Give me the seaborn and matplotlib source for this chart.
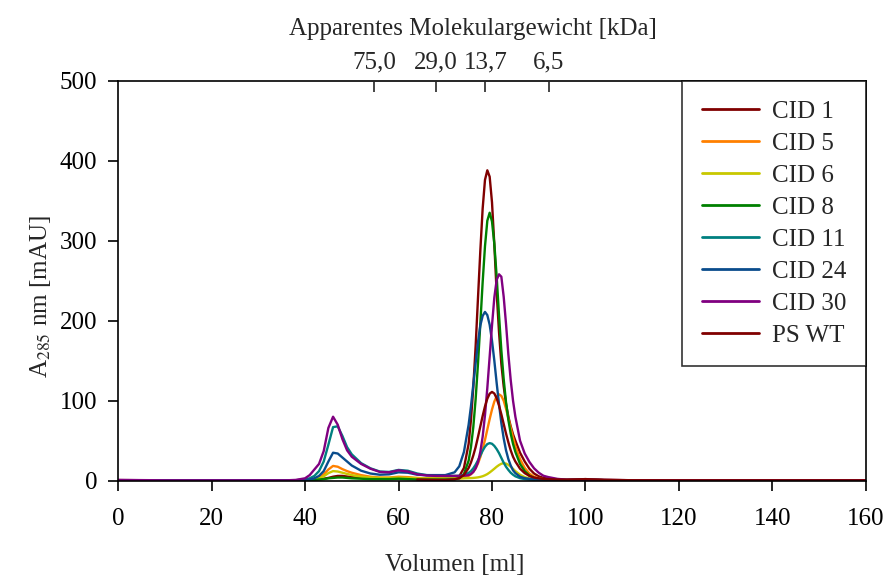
import numpy as np
import pandas as pd
import matplotlib
matplotlib.use("Agg")
import matplotlib.pyplot as plt
import seaborn as sns

nan = np.nan

volume = [0, 10, 20, 30, 36, 38,
          40, 41, 42, 43, 44, 45, 46, 47, 48, 49, 50,
          52, 54, 56, 58, 60, 62, 64, 66, 68, 70,
          72, 73, 74, 75,
          75.5, 76, 76.5, 77, 77.5, 78, 78.5, 79, 79.5, 80, 80.5, 81, 81.5, 82, 82.5, 83, 83.5, 84, 84.5, 85,
          86, 87, 88, 89, 90, 91, 92,
          94, 96, 100, 104, 110, 120, 140, 160]

cid1 = [0.8, 0.5, 0.5, 0.5, 0.5, 0.6,
        0.8, 1.0, 1.3, 1.8, 2.5, 3.5, 5.0, 6.0, 6.0, 5.2, 4.5,
        3.5, 3.0, 2.6, 2.5, 3.0, 2.6, 2.2, 2.0, 2.0, 2.2,
        2.8, 5.5, 16, 46,
        76, 117, 168, 228, 287, 340, 376, 388, 380, 348, 295, 235, 186, 146, 118, 96, 80, 68, 58, 50,
        35, 24, 15, 9, 5.5, 3.5, 2.5,
        1.3, 1.2, 2.0, 1.0, 0.6, 0.5, 0.5, 0.5]

cid5 = [0.5, 0.5, 0.5, 0.5, 0.5, 0.6,
        1.0, 1.5, 2.5, 4.0, 8.0, 14.0, 18.5, 17.5, 14.5, 12.0, 10.0,
        7.0, 5.0, 4.0, 4.0, 5.0, 4.5, 3.5, 3.0, 3.0, 3.0,
        3.0, 3.0, 3.5, 6.0,
        8.0, 11, 15.5, 21.5, 29.5, 39.5, 51, 64, 77, 89, 99, 105.5, 108, 106, 100, 90, 78, 66, 54, 43,
        27, 16, 9, 5, 3, 2, 1.6,
        1.2, 1.0, 1.2, 0.8, 0.6, 0.5, 0.5, 0.5]

cid6 = [0.5, 0.5, 0.5, 0.5, 0.5, 0.6,
        1.0, 1.5, 2.0, 3.0, 5.5, 9.5, 12.0, 11.5, 10.0, 8.5, 7.0,
        5.0, 4.0, 3.5, 3.5, 4.0, 3.5, 3.0, 3.0, 3.0, 3.0,
        3.0, 3.0, 3.0, 3.2,
        3.3, 3.5, 3.8, 4.2, 4.8, 5.6, 6.8, 8.3, 10.3, 12.6, 15, 17.5, 19.6, 21.2, 22, 21.4, 19.8, 17.5, 14.8, 12,
        7.5, 4.5, 2.8, 1.8, 1.3, 1.1, 1.0,
        0.9, 0.8, 1.0, 0.7, 0.6, 0.5, 0.5, 0.5]

cid8 = [0.5, 0.5, 0.5, 0.5, 0.5, 0.5,
        0.5, 0.7, 1.0, 1.5, 2.0, 3.0, 3.5, 4.0, 4.0, 3.5, 3.0,
        2.5, 2.0, 2.0, 2.0, 2.5, 2.0, 1.5, 1.5, 1.5, 1.5,
        1.8, 3.0, 8.5, 25,
        42, 67, 102, 146, 196, 248, 293, 325, 335, 324, 296, 255, 207, 163, 127, 98, 76, 59, 46, 36,
        21, 12, 6.5, 3.5, 2.0, 1.4, 1.1,
        0.9, 0.8, 1.0, 0.7, 0.6, 0.5, 0.5, 0.5]

cid11 = [0.5, 0.5, 0.5, 0.5, 0.5, 0.6,
         1.5, 3.0, 6.0, 12.0, 24.0, 45.0, 67.0, 68.0, 56.0, 42.0, 33.0,
         22.0, 15.5, 11.5, 11.0, 13.5, 12.5, 9.0, 7.0, 6.5, 6.0,
         6.0, 6.2, 7.0, 9.8,
         12, 15.5, 20, 25.5, 31.5, 37.5, 42.5, 45.8, 47, 46.2, 43.5, 39.5, 34.5, 28.5, 22.5, 17.5, 13.5, 10, 7.5, 5.5,
         3.2, 2.0, 1.4, 1.1, 1.0, 0.9, 0.9,
         0.8, 0.8, 1.0, 0.7, 0.6, 0.5, 0.5, 0.5]

cid24 = [0.5, 0.5, 0.5, 0.5, 0.5, 0.6,
         1.0, 1.5, 3.0, 6.0, 12.0, 24.0, 35.0, 34.0, 29.0, 24.0, 19.0,
         12.5, 9.0, 7.5, 8.0, 10.5, 10.0, 7.5, 7.0, 7.0, 7.0,
         10.5, 18, 36, 70,
         93, 120, 147, 173, 194, 206, 211, 207, 195, 175, 150, 122, 96, 72, 53, 38, 27, 19, 13, 9.5,
         5, 3.2, 2.3, 1.7, 1.4, 1.2, 1.1,
         0.9, 0.8, 1.0, 0.7, 0.6, 0.5, 0.5, 0.5]

cid30 = [1.0, 0.5, 0.5, 0.5, 0.5, 1.0,
         3.0, 7.0, 14.0, 21.0, 37.0, 66.0, 80.0, 70.0, 52.0, 38.0, 30.0,
         21.0, 15.0, 11.0, 10.5, 13.0, 11.5, 8.0, 6.5, 6.0, 6.0,
         6.0, 6.0, 6.2, 7.0,
         8.5, 11, 15.5, 23, 36, 55, 82, 116, 155, 194, 229, 251, 258, 255, 230, 196, 158, 126, 100, 80,
         50, 34, 23.5, 15.5, 10, 6.2, 4.6,
         2.3, 1.3, 1.5, 1.0, 0.6, 0.5, 0.5, 0.5]

pswt = [nan, nan, nan, nan, nan, nan,
        nan, nan, nan, nan, nan, nan, nan, nan, nan, nan, nan,
        nan, nan, nan, nan, nan, nan, 1.5, 1.2, 1.0, 1.0,
        1.7, 3.2, 7.2, 15.9,
        22.8, 31.6, 42, 54.6, 67.8, 80.9, 92.9, 102.5, 108.8, 111, 109, 103, 94, 83, 71, 59, 48, 38, 30, 24,
        15, 9.5, 6, 4, 3, 2.3, 2,
        1.5, 1.3, 2.0, 1.0, 0.6, 0.5, 0.5, 0.5]

series_names = ["CID 1", "CID 5", "CID 6", "CID 8", "CID 11", "CID 24", "CID 30", "PS WT"]
series_values = [cid1, cid5, cid6, cid8, cid11, cid24, cid30, pswt]
series_colors = ["#800000", "#FF8000", "#C8C800", "#008000", "#008080", "#0A4C8C", "#800080", "#800000"]

x_ticks = [0, 20, 40, 60, 80, 100, 120, 140, 160]
y_ticks = [0, 100, 200, 300, 400, 500]
mw_positions = [54.8, 68.0, 78.6, 92.2]
mw_labels = ["75,0", "29,0", "13,7", "6,5"]

sns.set_style("ticks")
plt.rcParams["font.family"] = ["Liberation Serif", "DejaVu Serif"]
plt.rcParams["mathtext.fontset"] = "stix"
FS = 18

frames = []
for name, vals in zip(series_names, series_values):
    frames.append(pd.DataFrame({"Volumen": volume, "A": vals, "Probe": name}))
df = pd.concat(frames, ignore_index=True).dropna()

fig = plt.figure(figsize=(8.88, 5.81), dpi=100)
ax = fig.add_axes([0.1329, 0.1726, 0.8423, 0.6885])

sns.lineplot(data=df, x="Volumen", y="A", hue="Probe", hue_order=series_names,
             palette=dict(zip(series_names, series_colors)), estimator=None,
             sort=False, linewidth=1.7, ax=ax, legend=True)

ax.set_xlim(0, 160)
ax.set_ylim(0, 500)
ax.set_xticks(x_ticks)
ax.set_yticks(y_ticks)
ax.tick_params(axis="both", direction="out", length=7, width=1.2, labelsize=FS,
               colors="black", pad=13)
ax.tick_params(axis="y", pad=8)
ax.set_xlabel("Volumen [ml]", fontsize=FS, labelpad=17)
ax.xaxis.label.set_x(0.45)
ax.set_ylabel("A$_{285}$ nm [mAU]", fontsize=FS, labelpad=5)
ax.yaxis.label.set_y(0.46)
for sp in ax.spines.values():
    sp.set_visible(True)
    sp.set_color("black")
    sp.set_linewidth(1.2)

top = ax.twiny()
top.set_xlim(ax.get_xlim())
top.set_xticks(mw_positions)
top.set_xticklabels(mw_labels)
top.tick_params(axis="x", direction="in", length=8, width=1.2, labelsize=FS, pad=5)
top.set_xlabel("Apparentes Molekulargewicht [kDa]", fontsize=FS, labelpad=12)
top.xaxis.label.set_x(0.475)
for sp in top.spines.values():
    sp.set_visible(False)

handles, labels = ax.get_legend_handles_labels()
if ax.legend_ is not None:
    ax.legend_.remove()
leg = top.legend(handles, labels, loc="upper right", fontsize=FS, frameon=True,
                 fancybox=False, edgecolor="black", borderaxespad=0.0,
                 handlelength=2.3, handletextpad=0.52, labelspacing=0.38,
                 borderpad=0.78)
leg.get_frame().set_linewidth(1.2)
for h in leg.legend_handles:
    h.set_linewidth(2.0)

fig.savefig("out.png", dpi=100)
